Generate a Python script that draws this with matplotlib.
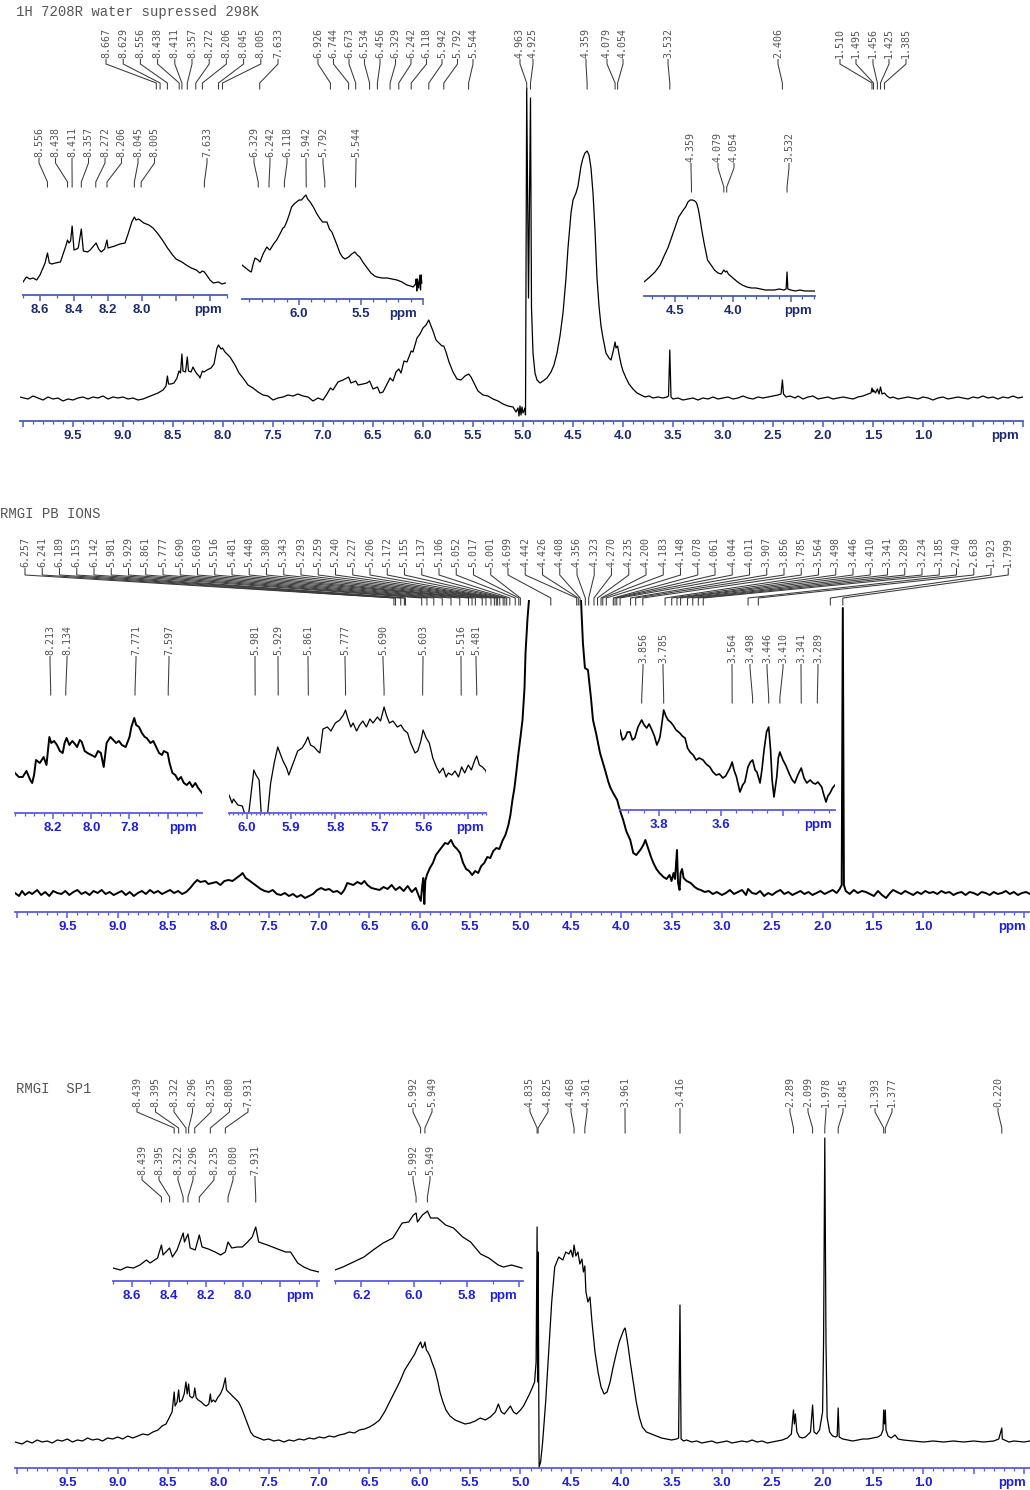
import matplotlib
matplotlib.use("Agg")
import matplotlib.pyplot as plt
from matplotlib.ticker import MultipleLocator

# -------------------------
# Spectrum 1: 1H 7208R water supressed 298K
# -------------------------
s1_ppm = [10.03, 9.95, 9.90, 9.85, 9.80, 9.75, 9.70, 9.65, 9.60, 9.55, 9.50, 9.45, 9.40, 9.35, 9.30,
          9.25, 9.20, 9.15, 9.10, 9.05, 9.00, 8.95, 8.90, 8.85, 8.80, 8.75, 8.70, 8.65, 8.60, 8.57,
          8.556, 8.545, 8.52, 8.49, 8.46, 8.44, 8.425, 8.411, 8.40, 8.375, 8.357, 8.345, 8.32, 8.30,
          8.28, 8.26, 8.24, 8.23, 8.206, 8.19, 8.16, 8.12, 8.09, 8.06, 8.045, 8.02, 8.005, 7.98, 7.93,
          7.88, 7.84, 7.80, 7.75, 7.70, 7.65, 7.60, 7.55, 7.50, 7.45, 7.40, 7.35, 7.30, 7.25, 7.20,
          7.15, 7.10, 7.05, 7.00, 6.96, 6.926, 6.90, 6.85, 6.80, 6.744, 6.72, 6.673, 6.65, 6.60, 6.56,
          6.534, 6.50, 6.456, 6.43, 6.40, 6.37, 6.34, 6.329, 6.30, 6.27, 6.242, 6.22, 6.19, 6.16, 6.118,
          6.10, 6.06, 6.03, 6.00, 5.97, 5.942, 5.92, 5.90, 5.87, 5.84, 5.81, 5.792, 5.77, 5.74, 5.70,
          5.66, 5.62, 5.58, 5.544, 5.52, 5.48, 5.45, 5.40, 5.35, 5.30, 5.25, 5.20, 5.15, 5.10, 5.07,
          5.05, 5.04, 5.03, 5.02, 5.01, 5.00, 4.98, 4.975, 4.963, 4.945, 4.925, 4.915, 4.90, 4.88, 4.86,
          4.83, 4.80, 4.76, 4.72, 4.69, 4.66, 4.63, 4.60, 4.57, 4.55, 4.52, 4.50, 4.47, 4.45, 4.42,
          4.40, 4.38, 4.359, 4.34, 4.32, 4.30, 4.28, 4.26, 4.24, 4.22, 4.20, 4.17, 4.14, 4.12, 4.10,
          4.079, 4.07, 4.054, 4.04, 4.02, 4.00, 3.97, 3.94, 3.90, 3.86, 3.82, 3.78, 3.74, 3.70, 3.65,
          3.60, 3.56, 3.545, 3.532, 3.52, 3.50, 3.45, 3.40, 3.35, 3.30, 3.25, 3.20, 3.15, 3.10, 3.05,
          3.00, 2.95, 2.90, 2.85, 2.80, 2.75, 2.70, 2.65, 2.60, 2.55, 2.50, 2.45, 2.42, 2.406, 2.395,
          2.37, 2.33, 2.28, 2.25, 2.20, 2.15, 2.10, 2.05, 2.00, 1.95, 1.90, 1.85, 1.80, 1.75, 1.70,
          1.65, 1.60, 1.55, 1.52, 1.510, 1.50, 1.495, 1.475, 1.456, 1.44, 1.425, 1.41, 1.385, 1.36,
          1.33, 1.30, 1.25, 1.20, 1.15, 1.10, 1.05, 1.00, 0.95, 0.90, 0.85, 0.80, 0.75, 0.70, 0.65,
          0.60, 0.55, 0.50, 0.45, 0.40, 0.35, 0.30, 0.25, 0.20, 0.15, 0.10, 0.05, 0.00]
s1_int = [1, -1, 2, 0, -2, 1, -1, 0, -3, -1, -2, 0, 1, -1, 1,
          0, 2, -1, 1, 0, 1, -1, 0, -2, -1, 1, 3, 5, 8, 12,
          22, 14, 14, 15, 20, 27, 25, 44, 27, 26, 41, 27, 26, 31,
          27, 24, 22, 20, 27, 26, 28, 30, 34, 50, 53, 49, 50, 46, 41,
          33, 25, 20, 13, 10, 6, 3, 2, -2, 0, 1, 3, 2, 4, 2,
          1, -3, 0, -2, 4, 10, 8, 16, 18, 21, 15, 17, 13, 14, 15,
          17, 9, 11, 5, 6, 12, 18, 20, 17, 26, 29, 25, 37, 36, 47,
          46, 60, 64, 70, 73, 78, 72, 67, 58, 55, 52, 52, 46, 36, 26,
          19, 18, 22, 24, 21, 13, 7, 3, 2, -1, -3, -6, -8, -9, -14,
          -10, -18, -8, -17, -9, -15, -10, -17, 310, 100, 300, 90, 45, 25, 18,
          15, 17, 20, 26, 33, 45, 62, 85, 120, 150, 185, 198, 205, 212, 232,
          240, 245, 247, 243, 230, 205, 168, 120, 92, 72, 60, 45, 40, 38, 46,
          56, 50, 52, 44, 34, 27, 20, 14, 9, 5, 3, 1, 2, 0, 1,
          0, 1, 2, 48, 1, -1, 0, -2, -1, 0, -2, 0, -1, 1, -1,
          0, 1, -1, 0, 2, 0, -1, 1, 0, 1, 2, 3, 4, 18, 4,
          1, 2, 0, 2, -1, 1, 2, -1, 0, 1, -1, 0, 1, 0, -1,
          1, 2, 4, 5, 10, 6, 8, 5, 9, 4, 11, 4, 5, 2,
          0, 1, -1, 0, 1, 0, -1, 1, 0, -2, 0, 1, -1, 0, 1,
          0, -1, 1, 0, 2, 0, 1, -1, 1, 0, 2, 0, 1]

s1a_ppm = [8.70, 8.68, 8.66, 8.64, 8.62, 8.60, 8.57, 8.556, 8.545, 8.53, 8.51, 8.48, 8.45, 8.438,
           8.43, 8.42, 8.411, 8.40, 8.385, 8.375, 8.357, 8.345, 8.32, 8.305, 8.285, 8.27, 8.255,
           8.24, 8.22, 8.206, 8.20, 8.18, 8.16, 8.13, 8.10, 8.08, 8.06, 8.045, 8.035, 8.02, 8.005,
           7.99, 7.96, 7.935, 7.91, 7.88, 7.85, 7.82, 7.80, 7.765, 7.74, 7.71, 7.68, 7.66, 7.645,
           7.633, 7.62, 7.60, 7.58, 7.55, 7.53, 7.51]
s1a_int = [13, 18, 16, 17, 15, 20, 32, 42, 32, 31, 32, 33, 48, 55,
           52, 54, 69, 45, 46, 47, 66, 44, 43, 45, 49, 52, 46,
           43, 46, 55, 47, 48, 49, 51, 52, 62, 73, 78, 75, 76, 74,
           72, 70, 67, 62, 55, 47, 40, 36, 33, 30, 27, 25, 22, 24,
           23, 20, 15, 12, 13, 11, 12]

s1b_ppm = [6.46, 6.43, 6.40, 6.385, 6.37, 6.355, 6.33, 6.315, 6.29, 6.26, 6.245, 6.235, 6.20, 6.18,
           6.15, 6.13, 6.118, 6.10, 6.08, 6.06, 6.04, 6.02, 6.00, 5.98, 5.96, 5.945, 5.93, 5.91,
           5.88, 5.86, 5.835, 5.81, 5.792, 5.775, 5.755, 5.735, 5.70, 5.67, 5.65, 5.63, 5.60, 5.575,
           5.55, 5.53, 5.51, 5.48, 5.45, 5.42, 5.39, 5.37, 5.33, 5.29, 5.25, 5.21, 5.17, 5.13, 5.10,
           5.08, 5.06, 5.055, 5.05, 5.045, 5.035, 5.025, 5.02, 5.015, 5.01]
s1b_int = [34, 31, 28, 27, 35, 41, 39, 37, 45, 52, 50, 49, 56, 59,
           66, 71, 72, 77, 84, 92, 95, 97, 99, 99, 102, 104, 100, 97,
           91, 86, 81, 77, 77, 77, 70, 67, 56, 46, 42, 40, 42, 45,
           47, 44, 42, 36, 31, 26, 23, 22, 21, 21, 20, 19, 17, 14, 13,
           12, 15, 20, 8, 20, 11, 24, 9, 24, 16]

s1c_ppm = [4.77, 4.72, 4.675, 4.63, 4.60, 4.56, 4.53, 4.50, 4.47, 4.43, 4.41, 4.39, 4.37, 4.35,
           4.33, 4.315, 4.30, 4.285, 4.27, 4.25, 4.22, 4.19, 4.16, 4.13, 4.10, 4.085, 4.079, 4.065,
           4.054, 4.04, 4.00, 3.96, 3.92, 3.88, 3.84, 3.80, 3.76, 3.72, 3.68, 3.64, 3.60, 3.56,
           3.54, 3.532, 3.525, 3.50, 3.46, 3.42, 3.38, 3.34, 3.29]
s1c_int = [14, 19, 24, 31, 39, 49, 59, 69, 79, 86, 89, 94, 96, 96,
           95, 93, 87, 77, 66, 53, 36, 31, 26, 23, 22, 25, 26, 24,
           25, 22, 18, 14, 11, 9, 8, 8, 7, 6, 6, 6, 7, 6,
           7, 24, 7, 6, 5, 6, 5, 5, 5]

s1_peaks_a = [8.667, 8.629, 8.556, 8.438, 8.411, 8.357, 8.272, 8.206, 8.045, 8.005, 7.633]
s1_peaks_b = [6.926, 6.744, 6.673, 6.534, 6.456, 6.329, 6.242, 6.118, 5.942, 5.792, 5.544]
s1_peaks_c = [4.963, 4.925, 4.359, 4.079, 4.054, 3.532, 2.406, 1.510, 1.495, 1.456, 1.425, 1.385]
s1a_peaks = [8.556, 8.438, 8.411, 8.357, 8.272, 8.206, 8.045, 8.005, 7.633]
s1b_peaks = [6.329, 6.242, 6.118, 5.942, 5.792, 5.544]
s1c_peaks = [4.359, 4.079, 4.054, 3.532]

# -------------------------
# Spectrum 2: RMGI PB IONS
# -------------------------
s2_ppm = [10.02, 9.98, 9.95, 9.92, 9.88, 9.85, 9.80, 9.76, 9.72, 9.68, 9.64, 9.60, 9.56, 9.52, 9.48,
          9.44, 9.40, 9.36, 9.32, 9.28, 9.24, 9.20, 9.16, 9.12, 9.08, 9.04, 9.00, 8.96, 8.92, 8.88,
          8.84, 8.80, 8.76, 8.72, 8.68, 8.64, 8.60, 8.56, 8.52, 8.48, 8.44, 8.40, 8.36, 8.32, 8.28,
          8.24, 8.21, 8.18, 8.13, 8.10, 8.06, 8.02, 7.98, 7.94, 7.90, 7.86, 7.82, 7.78, 7.76, 7.73,
          7.70, 7.66, 7.62, 7.58, 7.54, 7.50, 7.46, 7.42, 7.38, 7.34, 7.30, 7.26, 7.22, 7.18, 7.14,
          7.10, 7.06, 7.02, 6.98, 6.94, 6.90, 6.86, 6.82, 6.78, 6.75, 6.72, 6.69, 6.66, 6.62, 6.58,
          6.55, 6.52, 6.48, 6.44, 6.40, 6.36, 6.32, 6.28, 6.24, 6.20, 6.16, 6.12, 6.08, 6.04, 6.01,
          5.99, 5.975, 5.965, 5.955, 5.945, 5.93, 5.90, 5.87, 5.84, 5.81, 5.78, 5.75, 5.72, 5.69, 5.66,
          5.63, 5.60, 5.57, 5.54, 5.51, 5.48, 5.45, 5.42, 5.39, 5.36, 5.33, 5.30, 5.27, 5.24, 5.21,
          5.18, 5.15, 5.12, 5.10, 5.08, 5.06, 5.04, 5.02, 5.00, 4.98, 4.96, 4.95, 4.93, 4.91, 4.85,
          4.60, 4.42, 4.38, 4.36, 4.33, 4.30, 4.28, 4.25, 4.21, 4.18, 4.16, 4.13, 4.11, 4.08, 4.04,
          4.01, 3.98, 3.95, 3.91, 3.88, 3.85, 3.81, 3.78, 3.76, 3.73, 3.70, 3.68, 3.65, 3.62, 3.58,
          3.55, 3.52, 3.50, 3.48, 3.465, 3.446, 3.435, 3.42, 3.41, 3.395, 3.38, 3.35, 3.31, 3.27, 3.24,
          3.21, 3.17, 3.13, 3.09, 3.05, 3.00, 2.96, 2.92, 2.88, 2.84, 2.80, 2.76, 2.74, 2.70, 2.66,
          2.62, 2.58, 2.54, 2.50, 2.46, 2.42, 2.38, 2.34, 2.30, 2.26, 2.22, 2.18, 2.14, 2.10, 2.06,
          2.02, 1.98, 1.94, 1.90, 1.86, 1.83, 1.81, 1.799, 1.788, 1.77, 1.73, 1.69, 1.65, 1.61, 1.57,
          1.53, 1.49, 1.45, 1.41, 1.37, 1.33, 1.30, 1.26, 1.22, 1.18, 1.14, 1.10, 1.06, 1.02, 0.98,
          0.94, 0.90, 0.86, 0.82, 0.78, 0.74, 0.70, 0.66, 0.62, 0.58, 0.54, 0.50, 0.46, 0.42, 0.38,
          0.34, 0.30, 0.26, 0.22, 0.18, 0.14, 0.10, 0.06, 0.02, -0.02, -0.06]
s2_int = [0, -3, 2, -2, 1, -1, 3, -2, 1, -3, 2, 0, -1, 2, -2,
          1, 3, -1, 1, -2, 2, 0, 3, -1, 1, -2, 0, 2, -2, 1,
          -3, 0, 2, -1, 3, 0, 2, -1, 1, 3, 0, 2, -1, 1, 5,
          10, 13, 11, 12, 9, 10, 11, 8, 12, 13, 12, 15, 18, 20, 15,
          13, 10, 7, 4, 2, 1, 3, -1, -2, 0, -3, -1, -4, -2, -5,
          -3, -1, 3, 5, 3, 4, 1, 2, -1, 3, 10, 9, 8, 11, 9,
          12, 8, 5, 4, 3, 6, 4, 8, 3, 6, 2, 7, 1, 5, -3,
          -8, 8, 15, -11, 12, 18, 25, 30, 38, 42, 46, 50, 49, 53, 47,
          44, 40, 30, 24, 22, 18, 22, 20, 27, 30, 36, 35, 42, 45, 44,
          52, 58, 68, 78, 93, 105, 122, 140, 156, 173, 205, 240, 275, 300, 340,
          360, 340, 250, 225, 223, 195, 173, 160, 140, 130, 123, 112, 106, 100, 93,
          82, 73, 62, 53, 40, 38, 43, 48, 53, 44, 35, 30, 24, 20, 16,
          14, 18, 12, 20, 14, 43, 10, 3, 20, 24, 15, 12, 10, 6, 4,
          3, 1, 2, -1, 1, -2, 0, 3, -1, 1, 3, -2, 4, 0, -1,
          2, -3, 0, -2, 1, 3, -1, 1, -2, 0, 2, -1, 1, -2, 0,
          2, -1, 1, 3, 0, 4, 8, 285, 8, 2, -1, 3, 0, 2, 1,
          -1, -3, 2, -2, -5, 0, 3, 1, -1, 2, 0, -2, 1, -1, 2,
          0, 1, -1, 2, 0, 1, -2, 0, 1, -2, 1, 0, -2, 1, 0,
          -2, 1, -1, 0, 2, -1, 1, -2, 0, 1, -1]

s2a_ppm = [8.40, 8.38, 8.36, 8.34, 8.32, 8.31, 8.30, 8.29, 8.27, 8.25, 8.235, 8.22, 8.21, 8.195,
           8.18, 8.165, 8.15, 8.14, 8.13, 8.115, 8.10, 8.09, 8.075, 8.06, 8.05, 8.035, 8.02, 8.00,
           7.98, 7.965, 7.95, 7.935, 7.92, 7.90, 7.885, 7.87, 7.855, 7.84, 7.82, 7.80, 7.79, 7.775,
           7.765, 7.75, 7.735, 7.72, 7.71, 7.69, 7.675, 7.66, 7.645, 7.63, 7.62, 7.60, 7.59, 7.575,
           7.56, 7.545, 7.53, 7.515, 7.50, 7.485, 7.47, 7.455, 7.44, 7.42]
s2a_int = [40, 36, 36, 42, 33, 30, 38, 53, 50, 56, 48, 76, 70, 72,
           68, 62, 60, 70, 75, 68, 72, 70, 66, 73, 71, 62, 60, 58,
           56, 62, 60, 46, 70, 76, 73, 70, 72, 68, 66, 76, 86, 95,
           88, 86, 80, 76, 75, 70, 72, 66, 60, 58, 62, 60, 50, 40,
           38, 33, 36, 30, 28, 31, 26, 30, 25, 20]

s2b_ppm = [6.04, 6.033, 6.03, 6.02, 6.01, 5.998, 5.99, 5.984, 5.979, 5.972, 5.966, 5.955, 5.946,
           5.938, 5.93, 5.925, 5.918, 5.91, 5.905, 5.895, 5.885, 5.875, 5.868, 5.862, 5.856, 5.848,
           5.84, 5.835, 5.828, 5.818, 5.81, 5.80, 5.79, 5.782, 5.777, 5.772, 5.765, 5.76, 5.752,
           5.745, 5.738, 5.73, 5.722, 5.715, 5.705, 5.698, 5.69, 5.685, 5.678, 5.67, 5.66, 5.652,
           5.645, 5.637, 5.63, 5.62, 5.614, 5.607, 5.602, 5.595, 5.588, 5.58, 5.572, 5.565, 5.557,
           5.55, 5.545, 5.537, 5.53, 5.522, 5.515, 5.508, 5.50, 5.493, 5.486, 5.481, 5.475, 5.468,
           5.46, 5.456]
s2b_int = [18, 10, 14, 8, 7, -10, 20, 43, 38, 33, -10, -10, 30,
           50, 66, 60, 52, 45, 38, 50, 62, 65, 70, 76, 68, 66,
           62, 60, 84, 86, 82, 90, 93, 98, 103, 95, 86, 90, 82,
           88, 92, 86, 94, 90, 96, 92, 106, 98, 90, 92, 86, 88,
           83, 80, 70, 60, 62, 72, 83, 75, 70, 55, 46, 40, 45,
           36, 40, 38, 42, 36, 46, 40, 48, 43, 52, 57, 48, 46,
           42, 34]

s2c_ppm = [3.926, 3.918, 3.91, 3.902, 3.894, 3.886, 3.878, 3.868, 3.856, 3.848, 3.84, 3.832, 3.823,
           3.815, 3.807, 3.80, 3.797, 3.791, 3.785, 3.778, 3.771, 3.763, 3.755, 3.745, 3.733, 3.725,
           3.716, 3.708, 3.70, 3.69, 3.68, 3.67, 3.658, 3.648, 3.636, 3.626, 3.616, 3.605, 3.594,
           3.585, 3.578, 3.571, 3.564, 3.558, 3.55, 3.539, 3.53, 3.523, 3.513, 3.505, 3.498, 3.49,
           3.484, 3.474, 3.468, 3.461, 3.453, 3.446, 3.44, 3.435, 3.429, 3.42, 3.415, 3.41, 3.40,
           3.39, 3.378, 3.37, 3.362, 3.352, 3.341, 3.332, 3.323, 3.312, 3.303, 3.295, 3.287, 3.28,
           3.275, 3.268, 3.261, 3.255, 3.248, 3.24, 3.232]
s2c_int = [80, 70, 72, 78, 78, 70, 72, 83, 90, 85, 82, 86, 80,
           74, 65, 70, 73, 86, 100, 94, 90, 88, 85, 80, 77, 74,
           72, 62, 58, 55, 50, 52, 50, 46, 43, 38, 35, 36, 32,
           34, 38, 42, 48, 40, 33, 18, 25, 28, 43, 48, 50, 40,
           38, 27, 40, 60, 78, 83, 60, 30, 13, 33, 52, 58, 50,
           44, 35, 30, 27, 35, 42, 32, 27, 30, 27, 26, 28, 25,
           23, 15, 8, 14, 17, 22, 25]

s2_peaks = [6.257, 6.241, 6.189, 6.153, 6.142, 5.981, 5.929, 5.861, 5.777, 5.690, 5.603, 5.516,
            5.481, 5.448, 5.380, 5.343, 5.293, 5.259, 5.240, 5.227, 5.206, 5.172, 5.155, 5.137,
            5.106, 5.052, 5.017, 5.001, 4.699, 4.442, 4.426, 4.408, 4.356, 4.323, 4.270, 4.235,
            4.200, 4.183, 4.148, 4.078, 4.061, 4.044, 4.011, 3.907, 3.856, 3.785, 3.564, 3.498,
            3.446, 3.410, 3.341, 3.289, 3.234, 3.185, 2.740, 2.638, 1.923, 1.799]
s2a_peaks = [8.213, 8.134, 7.771, 7.597]
s2b_peaks = [5.981, 5.929, 5.861, 5.777, 5.690, 5.603, 5.516, 5.481]
s2c_peaks = [3.856, 3.785, 3.564, 3.498, 3.446, 3.410, 3.341, 3.289]

# -------------------------
# Spectrum 3: RMGI SP1
# -------------------------
s3_ppm = [10.02, 9.95, 9.90, 9.85, 9.80, 9.75, 9.70, 9.65, 9.60, 9.55, 9.50, 9.45, 9.40, 9.35, 9.30,
          9.25, 9.20, 9.15, 9.10, 9.05, 9.00, 8.95, 8.90, 8.85, 8.80, 8.75, 8.70, 8.65, 8.60, 8.56,
          8.52, 8.48, 8.46, 8.439, 8.43, 8.41, 8.395, 8.385, 8.36, 8.34, 8.322, 8.31, 8.296, 8.285,
          8.26, 8.245, 8.235, 8.22, 8.20, 8.17, 8.14, 8.12, 8.095, 8.08, 8.07, 8.05, 8.03, 8.01,
          7.98, 7.955, 7.931, 7.92, 7.90, 7.87, 7.84, 7.80, 7.77, 7.74, 7.71, 7.68, 7.65, 7.60,
          7.55, 7.50, 7.45, 7.40, 7.35, 7.30, 7.25, 7.20, 7.15, 7.10, 7.05, 7.00, 6.95, 6.90, 6.85,
          6.80, 6.75, 6.70, 6.65, 6.60, 6.55, 6.50, 6.45, 6.40, 6.35, 6.30, 6.25, 6.20, 6.15, 6.10,
          6.05, 6.02, 5.992, 5.975, 5.96, 5.949, 5.935, 5.92, 5.90, 5.88, 5.85, 5.82, 5.80, 5.77,
          5.74, 5.70, 5.65, 5.60, 5.55, 5.50, 5.45, 5.40, 5.35, 5.30, 5.25, 5.22, 5.19, 5.16, 5.13,
          5.10, 5.07, 5.04, 5.00, 4.97, 4.94, 4.91, 4.88, 4.86, 4.845, 4.835, 4.83, 4.825, 4.815,
          4.80, 4.78, 4.75, 4.72, 4.69, 4.66, 4.62, 4.58, 4.55, 4.52, 4.50, 4.48, 4.468, 4.45, 4.43,
          4.41, 4.39, 4.375, 4.361, 4.35, 4.33, 4.31, 4.29, 4.26, 4.23, 4.20, 4.17, 4.14, 4.11, 4.08,
          4.05, 4.02, 3.99, 3.975, 3.961, 3.95, 3.93, 3.91, 3.88, 3.85, 3.82, 3.79, 3.75, 3.70, 3.65,
          3.60, 3.55, 3.50, 3.45, 3.43, 3.416, 3.405, 3.38, 3.35, 3.30, 3.25, 3.20, 3.15, 3.10, 3.05,
          3.00, 2.95, 2.90, 2.85, 2.80, 2.75, 2.70, 2.65, 2.60, 2.55, 2.50, 2.45, 2.40, 2.35, 2.31,
          2.289, 2.28, 2.27, 2.255, 2.23, 2.20, 2.17, 2.14, 2.12, 2.099, 2.085, 2.06, 2.03, 2.00,
          1.99, 1.978, 1.966, 1.955, 1.93, 1.90, 1.87, 1.855, 1.845, 1.835, 1.80, 1.75, 1.70, 1.65,
          1.60, 1.55, 1.50, 1.45, 1.42, 1.40, 1.393, 1.385, 1.377, 1.37, 1.35, 1.32, 1.28, 1.25,
          1.20, 1.10, 1.00, 0.90, 0.80, 0.70, 0.60, 0.50, 0.40, 0.30, 0.25, 0.220, 0.215, 0.15,
          0.10, 0.00, -0.06]
s3_int = [0, -2, 1, -1, 2, 0, 1, -1, 2, 1, 3, 0, 2, 1, 4,
          2, 3, 1, 4, 3, 5, 3, 6, 4, 6, 8, 7, 10, 12, 16,
          18, 26, 30, 50, 36, 40, 52, 40, 42, 48, 60, 48, 58, 46,
          44, 46, 54, 44, 42, 40, 37, 36, 38, 48, 40, 42, 40, 44,
          48, 54, 64, 52, 50, 47, 44, 40, 34, 26, 18, 10, 6, 4,
          2, 3, 1, 2, 0, 2, 1, 3, 2, 4, 3, 5, 4, 6, 5,
          7, 8, 10, 9, 12, 13, 15, 18, 22, 30, 40, 50, 60, 72, 80,
          88, 95, 100, 94, 96, 100, 92, 90, 86, 80, 72, 60, 50, 40,
          32, 26, 22, 20, 18, 19, 21, 24, 22, 25, 30, 38, 30, 28, 32,
          36, 30, 28, 32, 36, 42, 48, 55, 60, 80, 215, 60, 190, -25,
          -20, 0, 40, 90, 140, 175, 185, 182, 190, 188, 192, 185, 197, 186, 190,
          178, 183, 170, 176, 150, 140, 145, 120, 90, 70, 55, 48, 50, 60, 75,
          88, 100, 108, 112, 114, 108, 95, 80, 60, 40, 25, 15, 10, 8, 6,
          4, 3, 2, 3, 4, 137, 3, 1, 2, 0, 1, -1, 0, 1, -1,
          0, 1, -1, 0, 1, 0, 2, 0, 1, -1, 0, 1, 2, 4, 8,
          32, 18, 28, 10, 5, 4, 5, 8, 10, 37, 10, 8, 12, 30,
          100, 304, 100, 25, 10, 6, 5, 6, 34, 5, 3, 2, 1, 2,
          3, 3, 4, 5, 7, 12, 32, 18, 32, 12, 6, 4, 7, 3,
          2, 1, 0, 1, 0, 1, 0, 1, 0, 1, 3, 14, 3, 0,
          1, 0, 1]

s3a_ppm = [8.70, 8.66, 8.625, 8.59, 8.555, 8.52, 8.50, 8.46, 8.439, 8.43, 8.395, 8.38, 8.355, 8.322,
           8.315, 8.296, 8.284, 8.257, 8.235, 8.22, 8.186, 8.15, 8.12, 8.095, 8.080, 8.06, 8.03,
           8.003, 7.975, 7.95, 7.931, 7.915, 7.868, 7.813, 7.77, 7.743, 7.705, 7.672, 7.635, 7.59]
s3a_int = [13, 11, 14, 13, 16, 21, 18, 23, 36, 26, 33, 24, 31, 48,
           39, 47, 33, 31, 46, 34, 32, 29, 26, 29, 39, 33, 34,
           34, 39, 44, 54, 39, 36, 32, 29, 29, 18, 14, 11, 9]

s3b_ppm = [6.30, 6.27, 6.23, 6.19, 6.155, 6.117, 6.08, 6.045, 6.02, 6.002, 5.992, 5.987, 5.968,
           5.953, 5.949, 5.937, 5.91, 5.88, 5.85, 5.815, 5.785, 5.747, 5.716, 5.68, 5.66, 5.63, 5.59]
s3b_int = [11, 14, 19, 24, 31, 38, 43, 58, 59, 66, 68, 59, 66,
           69, 70, 63, 63, 56, 53, 44, 39, 27, 23, 16, 14, 16, 13]

s3_peaks_a = [8.439, 8.395, 8.322, 8.296, 8.235, 8.080, 7.931]
s3_peaks_b = [5.992, 5.949]
s3_peaks_c = [4.835, 4.825, 4.468, 4.361, 3.961, 3.416, 2.289, 2.099, 1.978, 1.845, 1.393, 1.377, 0.220]
s3a_peaks = [8.439, 8.395, 8.322, 8.296, 8.235, 8.080, 7.931]
s3b_peaks = [5.992, 5.949]

# -------------------------
# Figure setup (pixel based layout)
# -------------------------
W, H = 1030, 1490
fig = plt.figure(figsize=(W / 100, H / 100), dpi=100)
fig.patch.set_facecolor("white")

NAVY = "#1e2a6e"
NAVY_AX = "#4a5cba"
BLUE = "#1f1fd8"
BLUE_AX = "#5a5ae6"
LBL = "#555555"
TICKFONT = dict(family="Liberation Sans", weight="bold", size=9.5)


def add_box(x0, x1, ytop, ybot):
    return fig.add_axes([x0 / W, 1 - ybot / H, (x1 - x0) / W, (ybot - ytop) / H])


def spectrum_axes(x0, x1, ytop, yaxis, xlim, ylim, majors, labels, minor, ppm_at,
                  tcol, acol, minor_len=2.2):
    ax = add_box(x0, x1, ytop, yaxis)
    ax.set_xlim(*xlim)
    ax.set_ylim(*ylim)
    ax.patch.set_alpha(0)
    for s in ("top", "left", "right"):
        ax.spines[s].set_visible(False)
    ax.spines["bottom"].set_color(acol)
    ax.spines["bottom"].set_linewidth(1.3)
    ax.set_yticks([])
    ax.set_xticks(majors, labels)
    ax.xaxis.set_minor_locator(MultipleLocator(minor))
    ax.tick_params(axis="x", which="major", direction="out", length=4.5, width=1.1,
                   color=acol, labelcolor=tcol, pad=2)
    ax.tick_params(axis="x", which="minor", direction="out", length=minor_len, width=0.9,
                   color=acol)
    for t in ax.get_xticklabels():
        t.set_fontproperties(matplotlib.font_manager.FontProperties(**TICKFONT))
    ax.annotate("ppm", xy=(ppm_at, 0), xycoords=("data", "axes fraction"),
                xytext=(0, -6.5), textcoords="offset points", ha="center", va="top",
                color=tcol, **TICKFONT)
    return ax


def trace(ax, ppm, inten, lw=0.9):
    ax.plot(ppm, inten, color="black", lw=lw, solid_joinstyle="round")


# overlay in figure pixels for titles, peak labels and connectors
ov = fig.add_axes([0, 0, 1, 1], zorder=10)
ov.set_xlim(0, W)
ov.set_ylim(H, 0)
ov.axis("off")
ov.patch.set_alpha(0)


def px_of(ax, ppm):
    return ax.transData.transform((ppm, 0))[0]


def peak_labels(ax, peaks, xs, y_text, y_b1, y_b2, y_end, fs=7.2):
    for p, xl in zip(peaks, xs):
        xp = px_of(ax, p)
        ov.plot([xl, xl, xp, xp], [y_text + 1.5, y_b1, y_b2, y_end],
                color="#3a3a3a", lw=0.75, solid_joinstyle="miter")
        ov.text(xl, y_text, f"{p:.3f}", rotation=90, ha="center", va="bottom",
                family="DejaVu Sans Mono", size=fs, color=LBL)


def spread(x0, step, n):
    return [x0 + step * i for i in range(n)]


def title(x, y, s):
    ov.text(x, y, s, ha="left", va="center", family="Liberation Mono", size=10, color=LBL)


main_majors = [10.0, 9.5, 9.0, 8.5, 8.0, 7.5, 7.0, 6.5, 6.0, 5.5, 5.0, 4.5, 4.0, 3.5, 3.0,
               2.5, 2.0, 1.5, 1.0, 0.5, 0.0]
main_labels = [""] + [f"{m:.1f}" for m in main_majors[1:19]] + ["", ""]

# -------------------------
# Panel 1
# -------------------------
ax1 = spectrum_axes(20, 1023, 80, 421, (10.03, 0.0), (-23, 318), main_majors, main_labels,
                    0.1, 0.18, NAVY, NAVY_AX)
trace(ax1, s1_ppm, s1_int)

in1a = spectrum_axes(23, 227, 175, 295, (8.70, 7.50), (0, 120),
                     [8.6, 8.4, 8.2, 8.0, 7.8, 7.6], ["8.6", "8.4", "8.2", "8.0", "", ""],
                     0.1, 7.61, NAVY, NAVY_AX)
trace(in1a, s1a_ppm, s1a_int)
in1b = spectrum_axes(242, 423, 179, 299, (6.46, 5.0), (0, 120),
                     [6.0, 5.5, 5.0], ["6.0", "5.5", ""], 0.1, 5.16, NAVY, NAVY_AX)
trace(in1b, s1b_ppm, s1b_int)
in1c = spectrum_axes(644, 815, 176, 296, (4.77, 3.29), (0, 120),
                     [4.5, 4.0, 3.5], ["4.5", "4.0", ""], 0.1, 3.44, NAVY, NAVY_AX)
trace(in1c, s1c_ppm, s1c_int)

title(16, 12, "1H 7208R water supressed 298K")
peak_labels(ax1, s1_peaks_a, spread(106, 17.2, 11), 58, 64, 83, 89)
peak_labels(ax1, s1_peaks_b, spread(318, 15.5, 11), 58, 64, 83, 89)
peak_labels(ax1, s1_peaks_c, [520, 533, 586, 607, 623, 668, 778, 840, 856, 873, 889, 906],
            58, 64, 83, 89)
peak_labels(in1a, s1a_peaks, spread(39, 16.5, 8) + [207], 157, 163, 182, 187)
peak_labels(in1b, s1b_peaks, [254, 270, 287, 306, 323, 356], 157, 163, 182, 187)
peak_labels(in1c, s1c_peaks, [691, 718, 734, 789], 162, 168, 187, 192)

# -------------------------
# Panel 2 (noisier acquisition, drawn a little heavier)
# -------------------------
ax2 = spectrum_axes(15, 1030, 600, 912, (10.02, -0.06), (-19, 293), main_majors, main_labels,
                    0.1, 0.12, BLUE, BLUE_AX)
trace(ax2, s2_ppm, s2_int, lw=1.4)

in2a = spectrum_axes(15, 202, 693, 813, (8.40, 7.42), (0, 120),
                     [8.2, 8.0, 7.8, 7.6], ["8.2", "8.0", "7.8", ""], 0.05, 7.52, BLUE, BLUE_AX)
trace(in2a, s2a_ppm, s2a_int, lw=1.4)
in2b = spectrum_axes(229, 486, 693, 813, (6.04, 5.46), (0, 120),
                     [6.0, 5.9, 5.8, 5.7, 5.6, 5.5], ["6.0", "5.9", "5.8", "5.7", "5.6", ""],
                     0.01, 5.497, BLUE, BLUE_AX, minor_len=1.5)
trace(in2b, s2b_ppm, s2b_int)
in2c = spectrum_axes(620, 835, 690, 810, (3.926, 3.232), (0, 120),
                     [3.8, 3.6, 3.4], ["3.8", "3.6", ""], 0.05, 3.287, BLUE, BLUE_AX)
trace(in2c, s2c_ppm, s2c_int, lw=1.2)

title(0, 514, "RMGI PB IONS")
peak_labels(ax2, s2_peaks, spread(25, 17.25, 58), 567, 575, 598, 605)
peak_labels(in2a, s2a_peaks, [50, 67, 136, 169], 655, 660, 690, 695)
peak_labels(in2b, s2b_peaks, [255, 278, 308, 345, 383, 423, 461, 476], 655, 660, 690, 695)
peak_labels(in2c, s2c_peaks, [643, 663, 732, 750, 767, 783, 801, 818], 663, 668, 698, 703)

# -------------------------
# Panel 3
# -------------------------
ax3 = spectrum_axes(15, 1030, 1130, 1468, (10.02, -0.06), (-26, 312), main_majors, main_labels,
                    0.1, 0.12, BLUE, BLUE_AX)
trace(ax3, s3_ppm, s3_int)

in3a = spectrum_axes(113, 319, 1161, 1281, (8.70, 7.59), (0, 120),
                     [8.6, 8.4, 8.2, 8.0, 7.8, 7.6], ["8.6", "8.4", "8.2", "8.0", "", ""],
                     0.1, 7.69, BLUE, BLUE_AX)
trace(in3a, s3a_ppm, s3a_int)
in3b = spectrum_axes(335, 523, 1161, 1281, (6.30, 5.586), (0, 120),
                     [6.2, 6.0, 5.8, 5.6], ["6.2", "6.0", "5.8", ""], 0.1, 5.66, BLUE, BLUE_AX)
trace(in3b, s3b_ppm, s3b_int)

title(16, 1089, "RMGI  SP1")
peak_labels(ax3, s3_peaks_a, spread(137, 18.5, 7), 1107, 1112, 1128, 1133)
peak_labels(ax3, s3_peaks_b, [413, 432], 1107, 1112, 1128, 1133)
peak_labels(ax3, s3_peaks_c, [530, 548, 571, 587, 625, 680, 790, 808, 826, 843, 875, 892, 998],
            1107, 1112, 1128, 1133)
peak_labels(in3a, s3a_peaks, [142, 159, 178, 193, 214, 233, 255], 1175, 1180, 1197, 1202)
peak_labels(in3b, s3b_peaks, [413, 430], 1175, 1180, 1197, 1202)

fig.savefig("out.png", dpi=100, facecolor="white")
